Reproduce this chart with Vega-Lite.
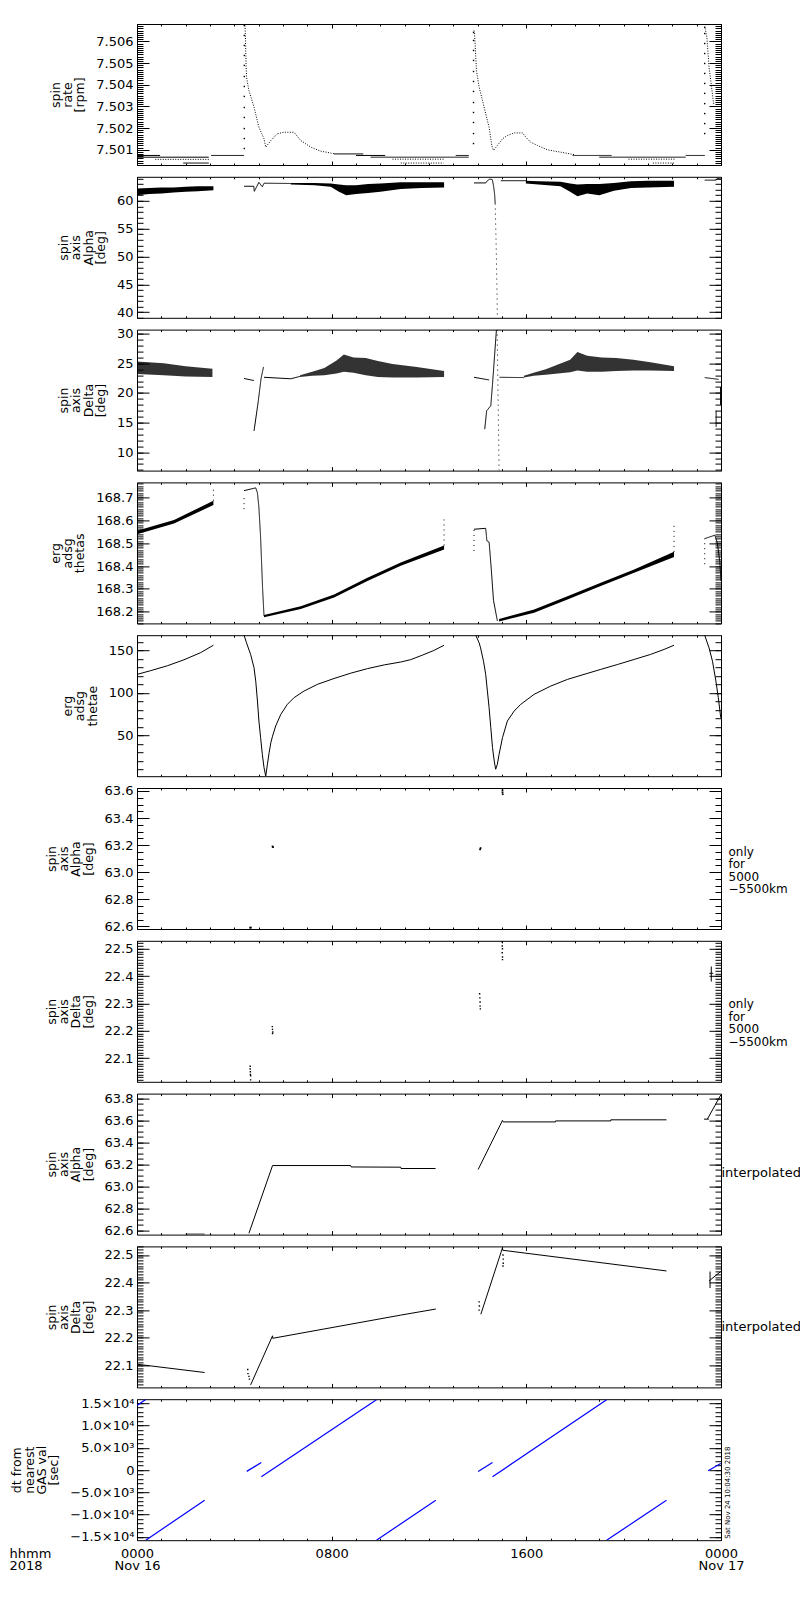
{
"$schema": "https://vega.github.io/schema/vega-lite/v6.json",
"background": "white",
"padding": {"left": 8, "top": 23, "right": 0, "bottom": 0},
"autosize": {"type": "pad"},
"spacing": 11.8,
"bounds": "flush",
"config": {
  "font": "DejaVu Sans",
  "view": {"stroke": "black", "strokeWidth": 1},
  "axis": {"domain": false, "ticks": false, "labelFontSize": 13, "labelColor": "black", "labelFont": "DejaVu Sans", "titleFont": "DejaVu Sans", "titleFontSize": 12.5, "titleFontWeight": "normal", "titleColor": "black", "gridColor": "black", "gridOpacity": 1, "gridWidth": 1, "labelFlush": false, "labelOverlap": false, "labelBound": false, "titleLineHeight": 12.3, "labelPadding": 4, "titlePadding": 9}
},
"datasets": {
"p1": [
{"s":"a","k":"solid","h":0,"v":7.50074},{"s":"a","k":"solid","h":0.95,"v":7.50074},
{"s":"b","k":"solid","h":0,"v":7.50066},{"s":"b","k":"solid","h":2.95,"v":7.50066},
{"s":"c","k":"dot","h":0.75,"v":7.50056},{"s":"c","k":"dot","h":2.95,"v":7.50056},
{"s":"d","k":"solid","h":1.9,"v":7.50039},{"s":"d","k":"solid","h":2.95,"v":7.50039},
{"s":"e","k":"solid","h":3.05,"v":7.50074},{"s":"e","k":"solid","h":4.4,"v":7.50074},
{"s":"f","k":"dot","h":4.44,"v":7.50673},{"s":"f","k":"dot","h":4.46,"v":7.506},{"s":"f","k":"dot","h":4.48,"v":7.505},{"s":"f","k":"dot","h":4.5,"v":7.50435},{"s":"f","k":"dot","h":4.6,"v":7.50373},{"s":"f","k":"dot","h":4.81,"v":7.50296},{"s":"f","k":"dot","h":5.01,"v":7.50204},{"s":"f","k":"dot","h":5.22,"v":7.50151},{"s":"f","k":"dot","h":5.29,"v":7.50112},{"s":"f","k":"dot","h":5.5,"v":7.50143},{"s":"f","k":"dot","h":5.77,"v":7.50174},{"s":"f","k":"dot","h":6.04,"v":7.50181},{"s":"f","k":"dot","h":6.45,"v":7.50181},{"s":"f","k":"dot","h":6.73,"v":7.50143},{"s":"f","k":"dot","h":7.14,"v":7.50112},{"s":"f","k":"dot","h":7.55,"v":7.50094},{"s":"f","k":"dot","h":8.1,"v":7.50082},
{"s":"g","k":"solid","h":8.1,"v":7.50081},{"s":"g","k":"solid","h":9.3,"v":7.50081},
{"s":"h","k":"solid","h":9.0,"v":7.50074},{"s":"h","k":"solid","h":10.2,"v":7.50074},
{"s":"i","k":"solid","h":9.6,"v":7.50066},{"s":"i","k":"solid","h":13.63,"v":7.50066},
{"s":"j","k":"dot","h":10.5,"v":7.50057},{"s":"j","k":"dot","h":12.6,"v":7.50057},
{"s":"k","k":"dot","h":10.84,"v":7.50039},{"s":"k","k":"dot","h":12.6,"v":7.50039},
{"s":"m","k":"solid","h":13.1,"v":7.50074},{"s":"m","k":"solid","h":13.63,"v":7.50074},
{"s":"n","k":"dot","h":13.85,"v":7.5065},{"s":"n","k":"dot","h":13.88,"v":7.5062},{"s":"n","k":"dot","h":13.95,"v":7.50466},{"s":"n","k":"dot","h":14.06,"v":7.50389},{"s":"n","k":"dot","h":14.2,"v":7.50327},{"s":"n","k":"dot","h":14.33,"v":7.50266},{"s":"n","k":"dot","h":14.47,"v":7.50204},{"s":"n","k":"dot","h":14.58,"v":7.5012},{"s":"n","k":"dot","h":14.65,"v":7.50097},{"s":"n","k":"dot","h":14.81,"v":7.5012},{"s":"n","k":"dot","h":15.02,"v":7.50151},{"s":"n","k":"dot","h":15.22,"v":7.50166},{"s":"n","k":"dot","h":15.5,"v":7.50178},{"s":"n","k":"dot","h":15.84,"v":7.50178},{"s":"n","k":"dot","h":15.98,"v":7.50158},{"s":"n","k":"dot","h":16.18,"v":7.50135},{"s":"n","k":"dot","h":16.46,"v":7.5012},{"s":"n","k":"dot","h":16.87,"v":7.501},{"s":"n","k":"dot","h":17.42,"v":7.50089},{"s":"n","k":"dot","h":17.96,"v":7.50078},
{"s":"o","k":"solid","h":17.9,"v":7.50074},{"s":"o","k":"solid","h":19.5,"v":7.50074},
{"s":"p","k":"solid","h":19.0,"v":7.50066},{"s":"p","k":"solid","h":22.55,"v":7.50066},
{"s":"q","k":"dot","h":20.2,"v":7.50057},{"s":"q","k":"dot","h":22.1,"v":7.50057},
{"s":"r","k":"dot","h":21.2,"v":7.50039},{"s":"r","k":"dot","h":22.1,"v":7.50039},
{"s":"u","k":"solid","h":22.55,"v":7.50074},{"s":"u","k":"solid","h":23.33,"v":7.50074},
{"s":"w","k":"dot","h":23.35,"v":7.5066},{"s":"w","k":"dot","h":23.42,"v":7.50619},{"s":"w","k":"dot","h":23.51,"v":7.5048},{"s":"w","k":"dot","h":23.6,"v":7.504},{"s":"w","k":"dot","h":23.7,"v":7.5031},
{"s":"x","k":"pt","h":4.41,"v":7.50106},{"s":"x","k":"pt","h":4.41,"v":7.50152},{"s":"x","k":"pt","h":4.41,"v":7.50198},{"s":"x","k":"pt","h":4.41,"v":7.50249},{"s":"x","k":"pt","h":4.41,"v":7.50295},{"s":"x","k":"pt","h":4.41,"v":7.50346},{"s":"x","k":"pt","h":4.41,"v":7.50392},{"s":"x","k":"pt","h":4.41,"v":7.50438},{"s":"x","k":"pt","h":4.41,"v":7.50489},{"s":"x","k":"pt","h":4.41,"v":7.50535},{"s":"x","k":"pt","h":4.41,"v":7.50581},{"s":"x","k":"pt","h":4.41,"v":7.50627},{"s":"x","k":"pt","h":4.41,"v":7.50673},
{"s":"x","k":"pt","h":13.83,"v":7.50129},{"s":"x","k":"pt","h":13.83,"v":7.50175},{"s":"x","k":"pt","h":13.83,"v":7.50226},{"s":"x","k":"pt","h":13.83,"v":7.50272},{"s":"x","k":"pt","h":13.83,"v":7.50318},{"s":"x","k":"pt","h":13.83,"v":7.50369},{"s":"x","k":"pt","h":13.83,"v":7.50415},{"s":"x","k":"pt","h":13.83,"v":7.50461},{"s":"x","k":"pt","h":13.83,"v":7.50512},{"s":"x","k":"pt","h":13.83,"v":7.50558},{"s":"x","k":"pt","h":13.83,"v":7.50604},{"s":"x","k":"pt","h":13.83,"v":7.50641},
{"s":"x","k":"pt","h":23.33,"v":7.50175},{"s":"x","k":"pt","h":23.33,"v":7.50221},{"s":"x","k":"pt","h":23.33,"v":7.50267},{"s":"x","k":"pt","h":23.33,"v":7.50313},{"s":"x","k":"pt","h":23.33,"v":7.5036},{"s":"x","k":"pt","h":23.33,"v":7.50406},{"s":"x","k":"pt","h":23.33,"v":7.50452},{"s":"x","k":"pt","h":23.33,"v":7.50498},{"s":"x","k":"pt","h":23.33,"v":7.50544},{"s":"x","k":"pt","h":23.33,"v":7.5059},{"s":"x","k":"pt","h":23.33,"v":7.50636},{"s":"x","k":"pt","h":23.33,"v":7.50665}
],
"p2": [
{"s":"b1","k":"band","h":0,"lo":61.0,"hi":62.2},{"s":"b1","k":"band","h":0.5,"lo":61.2,"hi":62.3},{"s":"b1","k":"band","h":1.0,"lo":61.3,"hi":62.4},{"s":"b1","k":"band","h":1.5,"lo":61.5,"hi":62.4},{"s":"b1","k":"band","h":2.0,"lo":61.6,"hi":62.5},{"s":"b1","k":"band","h":2.5,"lo":61.7,"hi":62.6},{"s":"b1","k":"band","h":3.14,"lo":61.9,"hi":62.6},
{"s":"b2","k":"band","h":6.32,"lo":62.9,"hi":63.2},{"s":"b2","k":"band","h":7.3,"lo":62.8,"hi":63.2},{"s":"b2","k":"band","h":7.96,"lo":62.5,"hi":63.1},{"s":"b2","k":"band","h":8.3,"lo":61.6,"hi":62.9},{"s":"b2","k":"band","h":8.6,"lo":61.0,"hi":62.8},{"s":"b2","k":"band","h":9.0,"lo":61.2,"hi":62.8},{"s":"b2","k":"band","h":9.5,"lo":61.4,"hi":63.0},{"s":"b2","k":"band","h":10.0,"lo":61.6,"hi":63.1},{"s":"b2","k":"band","h":10.84,"lo":62.1,"hi":63.3},{"s":"b2","k":"band","h":11.7,"lo":62.3,"hi":63.3},{"s":"b2","k":"band","h":12.62,"lo":62.4,"hi":63.3},
{"s":"b3","k":"band","h":15.98,"lo":63.1,"hi":63.6},{"s":"b3","k":"band","h":16.5,"lo":62.9,"hi":63.5},{"s":"b3","k":"band","h":17.4,"lo":62.6,"hi":63.4},{"s":"b3","k":"band","h":17.8,"lo":61.6,"hi":63.1},{"s":"b3","k":"band","h":18.1,"lo":60.8,"hi":62.9},{"s":"b3","k":"band","h":18.5,"lo":61.3,"hi":63.0},{"s":"b3","k":"band","h":19.0,"lo":61.0,"hi":63.0},{"s":"b3","k":"band","h":19.6,"lo":61.8,"hi":63.2},{"s":"b3","k":"band","h":20.3,"lo":62.3,"hi":63.5},{"s":"b3","k":"band","h":21.0,"lo":62.4,"hi":63.6},{"s":"b3","k":"band","h":22.07,"lo":62.5,"hi":63.6},
{"s":"l1","k":"solid","h":4.4,"v":62.6},{"s":"l1","k":"solid","h":4.8,"v":62.6},{"s":"l1","k":"solid","h":4.82,"v":61.7},{"s":"l1","k":"solid","h":5.01,"v":63.3},{"s":"l1","k":"solid","h":5.15,"v":62.5},{"s":"l1","k":"solid","h":5.22,"v":63.15},{"s":"l1","k":"solid","h":6.32,"v":63.1},
{"s":"l2","k":"solid","h":13.85,"v":63.2},{"s":"l2","k":"solid","h":14.33,"v":63.2},{"s":"l2","k":"solid","h":14.4,"v":63.6},{"s":"l2","k":"solid","h":14.5,"v":63.9},{"s":"l2","k":"solid","h":14.6,"v":63.8},{"s":"l2","k":"solid","h":14.66,"v":62.5},{"s":"l2","k":"solid","h":14.7,"v":61.0},{"s":"l2","k":"solid","h":14.72,"v":59.5},
{"s":"d2","k":"sparse","h":14.72,"v":59.5},{"s":"d2","k":"sparse","h":14.76,"v":52},{"s":"d2","k":"sparse","h":14.79,"v":45},{"s":"d2","k":"sparse","h":14.81,"v":39},
{"s":"l3","k":"solid","h":14.95,"v":63.6},{"s":"l3","k":"solid","h":15.98,"v":63.6},
{"s":"l4","k":"solid","h":23.33,"v":63.7},{"s":"l4","k":"solid","h":23.8,"v":63.7},{"s":"l4","k":"solid","h":23.85,"v":64.0},{"s":"l4","k":"solid","h":24,"v":63.9}
],
"p3": [
{"s":"b1","k":"band","h":0,"lo":23.2,"hi":25.3},{"s":"b1","k":"band","h":1.1,"lo":23.0,"hi":25.0},{"s":"b1","k":"band","h":2.0,"lo":22.8,"hi":24.5},{"s":"b1","k":"band","h":3.1,"lo":22.7,"hi":24.1},
{"s":"b2","k":"band","h":6.7,"lo":22.7,"hi":23.0},{"s":"b2","k":"band","h":7.2,"lo":22.9,"hi":23.6},{"s":"b2","k":"band","h":7.7,"lo":23.0,"hi":24.2},{"s":"b2","k":"band","h":8.2,"lo":23.3,"hi":25.5},{"s":"b2","k":"band","h":8.5,"lo":23.6,"hi":26.5},{"s":"b2","k":"band","h":8.9,"lo":23.4,"hi":26.0},{"s":"b2","k":"band","h":9.4,"lo":23.0,"hi":25.9},{"s":"b2","k":"band","h":9.9,"lo":22.7,"hi":25.4},{"s":"b2","k":"band","h":10.5,"lo":22.6,"hi":24.9},{"s":"b2","k":"band","h":11.5,"lo":22.6,"hi":24.4},{"s":"b2","k":"band","h":12.62,"lo":22.7,"hi":23.7},
{"s":"b3","k":"band","h":15.9,"lo":22.6,"hi":22.9},{"s":"b3","k":"band","h":16.3,"lo":22.9,"hi":23.4},{"s":"b3","k":"band","h":16.8,"lo":23.1,"hi":24.0},{"s":"b3","k":"band","h":17.3,"lo":23.3,"hi":24.8},{"s":"b3","k":"band","h":17.8,"lo":23.5,"hi":25.6},{"s":"b3","k":"band","h":18.1,"lo":23.8,"hi":26.9},{"s":"b3","k":"band","h":18.5,"lo":23.6,"hi":26.3},{"s":"b3","k":"band","h":19.1,"lo":23.6,"hi":26.0},{"s":"b3","k":"band","h":19.7,"lo":23.7,"hi":25.9},{"s":"b3","k":"band","h":20.4,"lo":23.8,"hi":25.6},{"s":"b3","k":"band","h":21.1,"lo":23.8,"hi":25.2},{"s":"b3","k":"band","h":22.07,"lo":23.7,"hi":24.5},
{"s":"l1","k":"solid","h":4.4,"v":22.45},{"s":"l1","k":"solid","h":4.8,"v":22.1},
{"s":"l2","k":"solid","h":4.81,"v":13.6},{"s":"l2","k":"solid","h":4.98,"v":18.5},{"s":"l2","k":"solid","h":5.1,"v":22.5},{"s":"l2","k":"solid","h":5.2,"v":24.4},
{"s":"l3","k":"solid","h":5.22,"v":22.65},{"s":"l3","k":"solid","h":6.32,"v":22.4},{"s":"l3","k":"solid","h":6.7,"v":22.8},
{"s":"l4","k":"solid","h":13.85,"v":22.65},{"s":"l4","k":"solid","h":14.47,"v":22.2},
{"s":"l5","k":"solid","h":14.29,"v":13.9},{"s":"l5","k":"solid","h":14.37,"v":17.0},{"s":"l5","k":"solid","h":14.54,"v":17.85},{"s":"l5","k":"solid","h":14.61,"v":21.5},{"s":"l5","k":"solid","h":14.7,"v":26.6},{"s":"l5","k":"solid","h":14.77,"v":30.6},
{"s":"d1","k":"sparse","h":14.8,"v":30.7},{"s":"d1","k":"sparse","h":14.88,"v":6.9},
{"s":"l6","k":"solid","h":14.9,"v":22.65},{"s":"l6","k":"solid","h":15.9,"v":22.6},
{"s":"l7","k":"solid","h":23.33,"v":22.6},{"s":"l7","k":"solid","h":23.9,"v":22.3},
{"s":"l8","k":"solid","h":23.8,"v":17.0},{"s":"l8","k":"solid","h":23.8,"v":14.3},
{"s":"l9","k":"solid","h":23.98,"v":21.0},{"s":"l9","k":"solid","h":23.98,"v":18.0}
],
"p4": [
{"s":"b1","k":"band","h":0,"lo":168.539,"hi":168.554},{"s":"b1","k":"band","h":1.52,"lo":168.586,"hi":168.601},{"s":"b1","k":"band","h":3.14,"lo":168.667,"hi":168.686},
{"s":"b2","k":"band","h":5.22,"lo":168.176,"hi":168.186},{"s":"b2","k":"band","h":6.73,"lo":168.212,"hi":168.224},{"s":"b2","k":"band","h":8.1,"lo":168.262,"hi":168.276},{"s":"b2","k":"band","h":9.47,"lo":168.335,"hi":168.349},{"s":"b2","k":"band","h":10.84,"lo":168.401,"hi":168.415},{"s":"b2","k":"band","h":12.62,"lo":168.472,"hi":168.49},
{"s":"b3","k":"band","h":14.88,"lo":168.157,"hi":168.168},{"s":"b3","k":"band","h":16.32,"lo":168.196,"hi":168.21},{"s":"b3","k":"band","h":17.69,"lo":168.254,"hi":168.268},{"s":"b3","k":"band","h":19.06,"lo":168.313,"hi":168.327},{"s":"b3","k":"band","h":20.43,"lo":168.371,"hi":168.385},{"s":"b3","k":"band","h":22.07,"lo":168.44,"hi":168.462},
{"s":"l1","k":"solid","h":4.4,"v":168.73},{"s":"l1","k":"solid","h":4.88,"v":168.742},{"s":"l1","k":"solid","h":4.95,"v":168.72},{"s":"l1","k":"solid","h":5.01,"v":168.656},{"s":"l1","k":"solid","h":5.08,"v":168.525},{"s":"l1","k":"solid","h":5.16,"v":168.305},{"s":"l1","k":"solid","h":5.22,"v":168.181},
{"s":"l2","k":"solid","h":13.85,"v":168.561},{"s":"l2","k":"solid","h":14.33,"v":168.565},{"s":"l2","k":"solid","h":14.38,"v":168.51},{"s":"l2","k":"solid","h":14.47,"v":168.505},{"s":"l2","k":"solid","h":14.55,"v":168.4},{"s":"l2","k":"solid","h":14.65,"v":168.25},{"s":"l2","k":"solid","h":14.81,"v":168.16},
{"s":"l3","k":"solid","h":23.33,"v":168.52},{"s":"l3","k":"solid","h":23.75,"v":168.535},{"s":"l3","k":"solid","h":23.85,"v":168.5},{"s":"l3","k":"solid","h":23.95,"v":168.42},{"s":"l3","k":"solid","h":24,"v":168.335},
{"s":"d1","k":"sparse","h":3.14,"v":168.686},{"s":"d1","k":"sparse","h":3.14,"v":168.744},
{"s":"d2","k":"sparse","h":4.4,"v":168.649},{"s":"d2","k":"sparse","h":4.4,"v":168.7},
{"s":"d3","k":"sparse","h":12.62,"v":168.49},{"s":"d3","k":"sparse","h":12.62,"v":168.612},
{"s":"d4","k":"sparse","h":13.85,"v":168.466},{"s":"d4","k":"sparse","h":13.85,"v":168.561},
{"s":"d5","k":"sparse","h":22.07,"v":168.462},{"s":"d5","k":"sparse","h":22.07,"v":168.576},
{"s":"d6","k":"sparse","h":23.33,"v":168.408},{"s":"d6","k":"sparse","h":23.33,"v":168.52}
],
"p5": [
{"s":"l1","k":"solid","h":0,"v":121.8},{"s":"l1","k":"solid","h":0.56,"v":126.2},{"s":"l1","k":"solid","h":1.25,"v":132},{"s":"l1","k":"solid","h":1.93,"v":139},{"s":"l1","k":"solid","h":2.62,"v":147.5},{"s":"l1","k":"solid","h":3.14,"v":156.2},
{"s":"l2","k":"solid","h":4.4,"v":168},{"s":"l2","k":"solid","h":4.5,"v":159},{"s":"l2","k":"solid","h":4.67,"v":145.3},{"s":"l2","k":"solid","h":4.81,"v":129.6},{"s":"l2","k":"solid","h":4.88,"v":113.9},{"s":"l2","k":"solid","h":4.95,"v":90.4},{"s":"l2","k":"solid","h":5.01,"v":66.8},{"s":"l2","k":"solid","h":5.08,"v":47.2},{"s":"l2","k":"solid","h":5.15,"v":27.6},{"s":"l2","k":"solid","h":5.22,"v":11.9},{"s":"l2","k":"solid","h":5.29,"v":1.8},{"s":"l2","k":"solid","h":5.36,"v":15.9},{"s":"l2","k":"solid","h":5.43,"v":29.6},{"s":"l2","k":"solid","h":5.5,"v":41.3},{"s":"l2","k":"solid","h":5.57,"v":49},{"s":"l2","k":"solid","h":5.7,"v":61},{"s":"l2","k":"solid","h":5.91,"v":74.7},{"s":"l2","k":"solid","h":6.18,"v":86.5},{"s":"l2","k":"solid","h":6.45,"v":94.3},{"s":"l2","k":"solid","h":6.86,"v":102.1},{"s":"l2","k":"solid","h":7.41,"v":110},{"s":"l2","k":"solid","h":8.1,"v":117},{"s":"l2","k":"solid","h":8.78,"v":123.2},{"s":"l2","k":"solid","h":9.47,"v":128.6},{"s":"l2","k":"solid","h":10.16,"v":133},{"s":"l2","k":"solid","h":10.84,"v":136.4},{"s":"l2","k":"solid","h":11.25,"v":139.2},{"s":"l2","k":"solid","h":11.73,"v":144.5},{"s":"l2","k":"solid","h":12.2,"v":150},{"s":"l2","k":"solid","h":12.62,"v":156.2},
{"s":"l3","k":"solid","h":13.92,"v":168},{"s":"l3","k":"solid","h":14.06,"v":159},{"s":"l3","k":"solid","h":14.12,"v":153},{"s":"l3","k":"solid","h":14.24,"v":137.4},{"s":"l3","k":"solid","h":14.33,"v":121.8},{"s":"l3","k":"solid","h":14.4,"v":102.1},{"s":"l3","k":"solid","h":14.47,"v":82.5},{"s":"l3","k":"solid","h":14.54,"v":59},{"s":"l3","k":"solid","h":14.61,"v":35.5},{"s":"l3","k":"solid","h":14.68,"v":19.8},{"s":"l3","k":"solid","h":14.74,"v":10},{"s":"l3","k":"solid","h":14.81,"v":15.9},{"s":"l3","k":"solid","h":14.88,"v":27.7},{"s":"l3","k":"solid","h":15.02,"v":47.2},{"s":"l3","k":"solid","h":15.22,"v":66.8},{"s":"l3","k":"solid","h":15.5,"v":78.6},{"s":"l3","k":"solid","h":15.77,"v":86.5},{"s":"l3","k":"solid","h":16.32,"v":98.3},{"s":"l3","k":"solid","h":17.0,"v":108},{"s":"l3","k":"solid","h":17.69,"v":115.9},{"s":"l3","k":"solid","h":18.37,"v":121.8},{"s":"l3","k":"solid","h":19.06,"v":127.7},{"s":"l3","k":"solid","h":19.75,"v":133.5},{"s":"l3","k":"solid","h":20.43,"v":139.4},{"s":"l3","k":"solid","h":21.1,"v":145.3},{"s":"l3","k":"solid","h":21.66,"v":151.2},{"s":"l3","k":"solid","h":22.07,"v":156.2},
{"s":"l4","k":"solid","h":23.33,"v":168},{"s":"l4","k":"solid","h":23.51,"v":153},{"s":"l4","k":"solid","h":23.65,"v":137.4},{"s":"l4","k":"solid","h":23.79,"v":114},{"s":"l4","k":"solid","h":23.89,"v":94.3},{"s":"l4","k":"solid","h":23.99,"v":70.7}
],
"p6": [
{"h":4.65,"v":62.59},{"h":4.68,"v":62.59},{"h":5.57,"v":63.19},{"h":5.59,"v":63.185},{"h":14.1,"v":63.168},{"h":14.12,"v":63.178},{"h":15.02,"v":63.605},{"h":15.02,"v":63.59},{"h":15.03,"v":63.576}
],
"p7": [
{"s":"p","k":"pt","h":4.65,"v":22.07},{"s":"p","k":"pt","h":4.65,"v":22.06},{"s":"p","k":"pt","h":4.66,"v":22.05},{"s":"p","k":"pt","h":4.66,"v":22.04},{"s":"p","k":"pt","h":4.67,"v":22.035},{"s":"p","k":"pt","h":4.67,"v":22.02},
{"s":"p","k":"pt","h":5.56,"v":22.215},{"s":"p","k":"pt","h":5.57,"v":22.205},{"s":"p","k":"pt","h":5.58,"v":22.195},{"s":"p","k":"pt","h":5.57,"v":22.19},
{"s":"p","k":"pt","h":14.08,"v":22.335},{"s":"p","k":"pt","h":14.09,"v":22.32},{"s":"p","k":"pt","h":14.1,"v":22.305},{"s":"p","k":"pt","h":14.1,"v":22.29},{"s":"p","k":"pt","h":14.11,"v":22.28},
{"s":"p","k":"pt","h":15.0,"v":22.525},{"s":"p","k":"pt","h":15.01,"v":22.51},{"s":"p","k":"pt","h":15.02,"v":22.5},{"s":"p","k":"pt","h":15.01,"v":22.485},{"s":"p","k":"pt","h":15.02,"v":22.47},{"s":"p","k":"pt","h":15.02,"v":22.46},
{"s":"x1","k":"solid","h":23.6,"v":22.38},{"s":"x1","k":"solid","h":23.6,"v":22.435},
{"s":"x2","k":"solid","h":23.52,"v":22.41},{"s":"x2","k":"solid","h":23.68,"v":22.41}
],
"p8": [
{"s":"l1","k":"solid","h":2.0,"v":62.567},{"s":"l1","k":"solid","h":2.78,"v":62.567},
{"s":"l2","k":"solid","h":4.6,"v":62.575},{"s":"l2","k":"solid","h":5.57,"v":63.19},{"s":"l2","k":"solid","h":8.78,"v":63.19},{"s":"l2","k":"solid","h":8.8,"v":63.177},{"s":"l2","k":"solid","h":10.84,"v":63.175},{"s":"l2","k":"solid","h":10.85,"v":63.163},{"s":"l2","k":"solid","h":12.27,"v":63.163},
{"s":"l3","k":"solid","h":14.02,"v":63.154},{"s":"l3","k":"solid","h":15.02,"v":63.6},{"s":"l3","k":"solid","h":15.05,"v":63.586},{"s":"l3","k":"solid","h":17.2,"v":63.586},{"s":"l3","k":"solid","h":17.2,"v":63.595},{"s":"l3","k":"solid","h":19.47,"v":63.595},{"s":"l3","k":"solid","h":19.47,"v":63.605},{"s":"l3","k":"solid","h":21.76,"v":63.605},
{"s":"l4","k":"solid","h":23.44,"v":63.611},{"s":"l4","k":"solid","h":23.99,"v":63.83},
{"s":"l5","k":"solid","h":23.3,"v":63.611},{"s":"l5","k":"solid","h":23.5,"v":63.611}
],
"p9": [
{"s":"l1","k":"solid","h":0,"v":22.104},{"s":"l1","k":"solid","h":2.78,"v":22.074},
{"s":"l2","k":"solid","h":4.67,"v":22.029},{"s":"l2","k":"solid","h":5.57,"v":22.207},{"s":"l2","k":"solid","h":5.58,"v":22.198},{"s":"l2","k":"solid","h":10.84,"v":22.282},{"s":"l2","k":"solid","h":12.28,"v":22.304},
{"s":"l3","k":"solid","h":14.13,"v":22.285},{"s":"l3","k":"solid","h":15.02,"v":22.526},{"s":"l3","k":"solid","h":15.03,"v":22.517},{"s":"l3","k":"solid","h":21.76,"v":22.442},
{"s":"l4","k":"solid","h":23.51,"v":22.406},{"s":"l4","k":"solid","h":23.99,"v":22.44},
{"s":"l5","k":"solid","h":23.55,"v":22.44},{"s":"l5","k":"solid","h":23.55,"v":22.38},
{"s":"p","k":"pt","h":4.55,"v":22.085},{"s":"p","k":"pt","h":4.56,"v":22.07},{"s":"p","k":"pt","h":4.6,"v":22.06},{"s":"p","k":"pt","h":4.62,"v":22.05},
{"s":"p","k":"pt","h":14.06,"v":22.33},{"s":"p","k":"pt","h":14.07,"v":22.315},{"s":"p","k":"pt","h":14.06,"v":22.3},
{"s":"p","k":"pt","h":15.04,"v":22.5},{"s":"p","k":"pt","h":15.05,"v":22.485},{"s":"p","k":"pt","h":15.05,"v":22.47},{"s":"p","k":"pt","h":15.04,"v":22.46}
],
"p10": [
{"s":"s1","h":0,"v":14480},{"s":"s1","h":0.36,"v":15812},
{"s":"s2","h":0.36,"v":-15760},{"s":"s2","h":2.78,"v":-6760},
{"s":"s3","h":4.51,"v":-300},{"s":"s3","h":5.11,"v":1700},
{"s":"s4","h":5.11,"v":-1510},{"s":"s4","h":9.84,"v":15760},
{"s":"s5","h":9.84,"v":-15760},{"s":"s5","h":12.28,"v":-6760},
{"s":"s6","h":14.02,"v":-300},{"s":"s6","h":14.61,"v":1700},
{"s":"s7","h":14.61,"v":-1510},{"s":"s7","h":19.3,"v":15760},
{"s":"s8","h":19.3,"v":-15760},{"s":"s8","h":21.76,"v":-6760},
{"s":"s9","h":23.47,"v":-160},{"s":"s9","h":23.99,"v":1490}
]
},
"vconcat": [
{
 "width": 584, "height": 141, "data": {"name": "p1"},
 "resolve": {"axis": {"x": "independent", "y": "independent"}},
 "layer": [
  {"transform": [{"filter": "datum.k!='pt'"}],
   "mark": {"type": "line", "color": "black", "strokeWidth": 1, "clip": true},
   "encoding": {
    "x": {"field": "h", "type": "quantitative", "scale": {"domain": [0,24], "nice": false, "zero": false}, "axis": {"orient":"bottom","values":[0,8,16,24],"labels":false,"grid":true,"gridDash":[4,133,4,1000],"title":null}},
    "y": {"field": "v", "type": "quantitative", "scale": {"domain": [7.5003,7.5068], "nice": false, "zero": false}, "axis": {"orient":"left","values":[7.501,7.502,7.503,7.504,7.505,7.506],"format":".3f","grid":true,"gridDash":[12,560,12,1000],"title":["spin","rate","[rpm]"]}},
    "detail": {"field": "s"},
    "strokeDash": {"field": "k", "type": "nominal", "scale": {"domain": ["solid","dot","sparse"], "range": [[1,0],[1,1.5],[1,4]]}, "legend": null},
    "order": {"value": null}
   }},
  {"transform": [{"filter": "datum.k=='pt'"}],
   "mark": {"type": "square", "color": "black", "size": 2, "opacity": 1, "clip": true},
   "encoding": {
    "x": {"field": "h", "type": "quantitative", "scale": {"domain": [0,24], "nice": false, "zero": false}, "axis": {"orient":"top","values":[0,1,2,3,4,5,6,7,8,9,10,11,12,13,14,15,16,17,18,19,20,21,22,23,24],"labels":false,"grid":true,"gridDash":[2,137,2,1000],"title":null}},
    "y": {"field": "v", "type": "quantitative", "scale": {"domain": [7.5003,7.5068], "nice": false, "zero": false}, "axis": {"orient":"right","values":[7.5004,7.5005,7.5006,7.5007,7.5008,7.5009,7.5010,7.5011,7.5012,7.5013,7.5014,7.5015,7.5016,7.5017,7.5018,7.5019,7.5020,7.5021,7.5022,7.5023,7.5024,7.5025,7.5026,7.5027,7.5028,7.5029,7.5030,7.5031,7.5032,7.5033,7.5034,7.5035,7.5036,7.5037,7.5038,7.5039,7.5040,7.5041,7.5042,7.5043,7.5044,7.5045,7.5046,7.5047,7.5048,7.5049,7.5050,7.5051,7.5052,7.5053,7.5054,7.5055,7.5056,7.5057,7.5058,7.5059,7.5060,7.5061,7.5062,7.5063,7.5064,7.5065,7.5066,7.5067,7.5068],"labels":false,"grid":true,"gridDash":[6,572,6,1000],"title":null}}
   }}
 ]
},
{
 "width": 584, "height": 141, "data": {"name": "p2"},
 "resolve": {"axis": {"x": "independent", "y": "independent"}},
 "layer": [
  {"transform": [{"filter": "datum.k!='band'"}],
   "mark": {"type": "line", "color": "black", "strokeWidth": 1, "clip": true},
   "encoding": {
    "x": {"field": "h", "type": "quantitative", "scale": {"domain": [0,24], "nice": false, "zero": false}, "axis": {"orient":"bottom","values":[0,8,16,24],"labels":false,"grid":true,"gridDash":[4,133,4,1000],"title":null}},
    "y": {"field": "v", "type": "quantitative", "scale": {"domain": [39,64.3], "nice": false, "zero": false}, "axis": {"orient":"left","values":[40,45,50,55,60],"format":"d","grid":true,"gridDash":[12,560,12,1000],"title":["spin","axis","Alpha","[deg]"]}},
    "detail": {"field": "s"},
    "strokeDash": {"field": "k", "type": "nominal", "scale": {"domain": ["solid","dot","sparse"], "range": [[1,0],[1,1.5],[1,4]]}, "legend": null},
    "order": {"value": null}
   }},
  {"transform": [{"filter": "datum.k=='band'"}],
   "mark": {"type": "area", "color": "black", "opacity": 1, "clip": true},
   "encoding": {
    "x": {"field": "h", "type": "quantitative", "scale": {"domain": [0,24], "nice": false, "zero": false}, "axis": {"orient":"top","values":[0,1,2,3,4,5,6,7,8,9,10,11,12,13,14,15,16,17,18,19,20,21,22,23,24],"labels":false,"grid":true,"gridDash":[2,137,2,1000],"title":null}},
    "y": {"field": "lo", "type": "quantitative", "scale": {"domain": [39,64.3], "nice": false, "zero": false}, "axis": {"orient":"right","values":[39,40,41,42,43,44,45,46,47,48,49,50,51,52,53,54,55,56,57,58,59,60,61,62,63,64],"labels":false,"grid":true,"gridDash":[6,572,6,1000],"title":null}},
    "y2": {"field": "hi"},
    "detail": {"field": "s"},
    "order": {"value": null}
   }}
 ]
},
{
 "width": 584, "height": 141, "data": {"name": "p3"},
 "resolve": {"axis": {"x": "independent", "y": "independent"}},
 "layer": [
  {"transform": [{"filter": "datum.k!='band'"}],
   "mark": {"type": "line", "color": "black", "strokeWidth": 1, "clip": true},
   "encoding": {
    "x": {"field": "h", "type": "quantitative", "scale": {"domain": [0,24], "nice": false, "zero": false}, "axis": {"orient":"bottom","values":[0,8,16,24],"labels":false,"grid":true,"gridDash":[4,133,4,1000],"title":null}},
    "y": {"field": "v", "type": "quantitative", "scale": {"domain": [6.9,30.7], "nice": false, "zero": false}, "axis": {"orient":"left","values":[10,15,20,25,30],"format":"d","grid":true,"gridDash":[12,560,12,1000],"title":["spin","axis","Delta","[deg]"]}},
    "detail": {"field": "s"},
    "strokeDash": {"field": "k", "type": "nominal", "scale": {"domain": ["solid","dot","sparse"], "range": [[1,0],[1,1.5],[1,4]]}, "legend": null},
    "order": {"value": null}
   }},
  {"transform": [{"filter": "datum.k=='band'"}],
   "mark": {"type": "area", "color": "black", "opacity": 0.8, "clip": true},
   "encoding": {
    "x": {"field": "h", "type": "quantitative", "scale": {"domain": [0,24], "nice": false, "zero": false}, "axis": {"orient":"top","values":[0,1,2,3,4,5,6,7,8,9,10,11,12,13,14,15,16,17,18,19,20,21,22,23,24],"labels":false,"grid":true,"gridDash":[2,137,2,1000],"title":null}},
    "y": {"field": "lo", "type": "quantitative", "scale": {"domain": [6.9,30.7], "nice": false, "zero": false}, "axis": {"orient":"right","values":[7,8,9,10,11,12,13,14,15,16,17,18,19,20,21,22,23,24,25,26,27,28,29,30],"labels":false,"grid":true,"gridDash":[6,572,6,1000],"title":null}},
    "y2": {"field": "hi"},
    "detail": {"field": "s"},
    "order": {"value": null}
   }}
 ]
},
{
 "width": 584, "height": 141, "data": {"name": "p4"},
 "resolve": {"axis": {"x": "independent", "y": "independent"}},
 "layer": [
  {"transform": [{"filter": "datum.k!='band'"}],
   "mark": {"type": "line", "color": "black", "strokeWidth": 1, "clip": true},
   "encoding": {
    "x": {"field": "h", "type": "quantitative", "scale": {"domain": [0,24], "nice": false, "zero": false}, "axis": {"orient":"bottom","values":[0,8,16,24],"labels":false,"grid":true,"gridDash":[4,133,4,1000],"title":null}},
    "y": {"field": "v", "type": "quantitative", "scale": {"domain": [168.149,168.766], "nice": false, "zero": false}, "axis": {"orient":"left","values":[168.2,168.3,168.4,168.5,168.6,168.7],"format":".1f","grid":true,"gridDash":[12,560,12,1000],"title":["erg","adsg","thetas"]}},
    "detail": {"field": "s"},
    "strokeDash": {"field": "k", "type": "nominal", "scale": {"domain": ["solid","dot","sparse"], "range": [[1,0],[1,1.5],[1,4]]}, "legend": null},
    "order": {"value": null}
   }},
  {"transform": [{"filter": "datum.k=='band'"}],
   "mark": {"type": "area", "color": "black", "opacity": 1, "clip": true},
   "encoding": {
    "x": {"field": "h", "type": "quantitative", "scale": {"domain": [0,24], "nice": false, "zero": false}, "axis": {"orient":"top","values":[0,1,2,3,4,5,6,7,8,9,10,11,12,13,14,15,16,17,18,19,20,21,22,23,24],"labels":false,"grid":true,"gridDash":[2,137,2,1000],"title":null}},
    "y": {"field": "lo", "type": "quantitative", "scale": {"domain": [168.149,168.766], "nice": false, "zero": false}, "axis": {"orient":"right","values":[168.15,168.16,168.17,168.18,168.19,168.2,168.21,168.22,168.23,168.24,168.25,168.26,168.27,168.28,168.29,168.3,168.31,168.32,168.33,168.34,168.35,168.36,168.37,168.38,168.39,168.4,168.41,168.42,168.43,168.44,168.45,168.46,168.47,168.48,168.49,168.5,168.51,168.52,168.53,168.54,168.55,168.56,168.57,168.58,168.59,168.6,168.61,168.62,168.63,168.64,168.65,168.66,168.67,168.68,168.69,168.7,168.71,168.72,168.73,168.74,168.75,168.76],"labels":false,"grid":true,"gridDash":[6,572,6,1000],"title":null}},
    "y2": {"field": "hi"},
    "detail": {"field": "s"},
    "order": {"value": null}
   }}
 ]
},
{
 "width": 584, "height": 141, "data": {"name": "p5"},
 "resolve": {"axis": {"x": "independent", "y": "independent"}},
 "layer": [
  {"transform": [{"filter": "datum.h<13"}],
   "mark": {"type": "line", "color": "black", "strokeWidth": 1, "clip": true},
   "encoding": {
    "x": {"field": "h", "type": "quantitative", "scale": {"domain": [0,24], "nice": false, "zero": false}, "axis": {"orient":"bottom","values":[0,8,16,24],"labels":false,"grid":true,"gridDash":[4,133,4,1000],"title":null}},
    "y": {"field": "v", "type": "quantitative", "scale": {"domain": [1.8,168], "nice": false, "zero": false}, "axis": {"orient":"left","values":[50,100,150],"format":"d","grid":true,"gridDash":[12,560,12,1000],"title":["erg","adsg","thetae"]}},
    "detail": {"field": "s"},
    "order": {"value": null}
   }},
  {"transform": [{"filter": "datum.h>=13"}],
   "mark": {"type": "line", "color": "black", "strokeWidth": 1, "clip": true},
   "encoding": {
    "x": {"field": "h", "type": "quantitative", "scale": {"domain": [0,24], "nice": false, "zero": false}, "axis": {"orient":"top","values":[0,1,2,3,4,5,6,7,8,9,10,11,12,13,14,15,16,17,18,19,20,21,22,23,24],"labels":false,"grid":true,"gridDash":[2,137,2,1000],"title":null}},
    "y": {"field": "v", "type": "quantitative", "scale": {"domain": [1.8,168], "nice": false, "zero": false}, "axis": {"orient":"right","values":[10,20,30,40,50,60,70,80,90,100,110,120,130,140,150,160],"labels":false,"grid":true,"gridDash":[6,572,6,1000],"title":null}},
    "detail": {"field": "s"},
    "order": {"value": null}
   }}
 ]
},
{
 "width": 584, "height": 141, "data": {"name": "p6"},
 "resolve": {"axis": {"x": "independent", "y": "independent"}},
 "layer": [
  {"transform": [{"filter": "datum.h<10"}],
   "mark": {"type": "square", "color": "black", "size": 3, "opacity": 1, "clip": true},
   "encoding": {
    "x": {"field": "h", "type": "quantitative", "scale": {"domain": [0,24], "nice": false, "zero": false}, "axis": {"orient":"bottom","values":[0,8,16,24],"labels":false,"grid":true,"gridDash":[4,133,4,1000],"title":null}},
    "y": {"field": "v", "type": "quantitative", "scale": {"domain": [62.58,63.622], "nice": false, "zero": false}, "axis": {"orient":"left","values":[62.6,62.8,63.0,63.2,63.4,63.6],"format":".1f","grid":true,"gridDash":[12,560,12,1000],"title":["spin","axis","Alpha","[deg]"]}}
   }},
  {"transform": [{"filter": "datum.h>=10"}],
   "mark": {"type": "square", "color": "black", "size": 3, "opacity": 1, "clip": true},
   "encoding": {
    "x": {"field": "h", "type": "quantitative", "scale": {"domain": [0,24], "nice": false, "zero": false}, "axis": {"orient":"top","values":[0,1,2,3,4,5,6,7,8,9,10,11,12,13,14,15,16,17,18,19,20,21,22,23,24],"labels":false,"grid":true,"gridDash":[2,137,2,1000],"title":null}},
    "y": {"field": "v", "type": "quantitative", "scale": {"domain": [62.58,63.622], "nice": false, "zero": false}, "axis": {"orient":"right","values":[62.6,62.65,62.7,62.75,62.8,62.85,62.9,62.95,63.0,63.05,63.1,63.15,63.2,63.25,63.3,63.35,63.4,63.45,63.5,63.55,63.6],"labels":false,"grid":true,"gridDash":[6,572,6,1000],"title":["\u00a0only","for","5000","\u22125500km"],"titleAngle":0,"titleAlign":"left","titleBaseline":"top","titleX":7,"titleY":58,"titleFontSize":12,"titleLineHeight":12.6}}
   }}
 ]
},
{
 "width": 584, "height": 141, "data": {"name": "p7"},
 "resolve": {"axis": {"x": "independent", "y": "independent"}},
 "layer": [
  {"transform": [{"filter": "datum.k=='pt'"}],
   "mark": {"type": "square", "color": "black", "size": 2, "opacity": 1, "clip": true},
   "encoding": {
    "x": {"field": "h", "type": "quantitative", "scale": {"domain": [0,24], "nice": false, "zero": false}, "axis": {"orient":"bottom","values":[0,8,16,24],"labels":false,"grid":true,"gridDash":[4,133,4,1000],"title":null}},
    "y": {"field": "v", "type": "quantitative", "scale": {"domain": [22.013,22.529], "nice": false, "zero": false}, "axis": {"orient":"left","values":[22.1,22.2,22.3,22.4,22.5],"format":".1f","grid":true,"gridDash":[12,560,12,1000],"title":["spin","axis","Delta","[deg]"]}}
   }},
  {"transform": [{"filter": "datum.k!='pt'"}],
   "mark": {"type": "line", "color": "black", "strokeWidth": 1, "clip": true},
   "encoding": {
    "x": {"field": "h", "type": "quantitative", "scale": {"domain": [0,24], "nice": false, "zero": false}, "axis": {"orient":"top","values":[0,1,2,3,4,5,6,7,8,9,10,11,12,13,14,15,16,17,18,19,20,21,22,23,24],"labels":false,"grid":true,"gridDash":[2,137,2,1000],"title":null}},
    "y": {"field": "v", "type": "quantitative", "scale": {"domain": [22.013,22.529], "nice": false, "zero": false}, "axis": {"orient":"right","values":[22.02,22.03,22.04,22.05,22.06,22.07,22.08,22.09,22.1,22.11,22.12,22.13,22.14,22.15,22.16,22.17,22.18,22.19,22.2,22.21,22.22,22.23,22.24,22.25,22.26,22.27,22.28,22.29,22.3,22.31,22.32,22.33,22.34,22.35,22.36,22.37,22.38,22.39,22.4,22.41,22.42,22.43,22.44,22.45,22.46,22.47,22.48,22.49,22.5,22.51,22.52],"labels":false,"grid":true,"gridDash":[6,572,6,1000],"title":["\u00a0only","for","5000","\u22125500km"],"titleAngle":0,"titleAlign":"left","titleBaseline":"top","titleX":7,"titleY":58,"titleFontSize":12,"titleLineHeight":12.6}},
    "detail": {"field": "s"},
    "order": {"value": null}
   }}
 ]
},
{
 "width": 584, "height": 141, "data": {"name": "p8"},
 "resolve": {"axis": {"x": "independent", "y": "independent"}},
 "layer": [
  {"transform": [{"filter": "datum.h<13"}],
   "mark": {"type": "line", "color": "black", "strokeWidth": 1, "clip": true},
   "encoding": {
    "x": {"field": "h", "type": "quantitative", "scale": {"domain": [0,24], "nice": false, "zero": false}, "axis": {"orient":"bottom","values":[0,8,16,24],"labels":false,"grid":true,"gridDash":[4,133,4,1000],"title":null}},
    "y": {"field": "v", "type": "quantitative", "scale": {"domain": [62.563,63.843], "nice": false, "zero": false}, "axis": {"orient":"left","values":[62.6,62.8,63.0,63.2,63.4,63.6,63.8],"format":".1f","grid":true,"gridDash":[12,560,12,1000],"title":["spin","axis","Alpha","[deg]"]}},
    "detail": {"field": "s"},
    "order": {"value": null}
   }},
  {"transform": [{"filter": "datum.h>=13"}],
   "mark": {"type": "line", "color": "black", "strokeWidth": 1, "clip": true},
   "encoding": {
    "x": {"field": "h", "type": "quantitative", "scale": {"domain": [0,24], "nice": false, "zero": false}, "axis": {"orient":"top","values":[0,1,2,3,4,5,6,7,8,9,10,11,12,13,14,15,16,17,18,19,20,21,22,23,24],"labels":false,"grid":true,"gridDash":[2,137,2,1000],"title":null}},
    "y": {"field": "v", "type": "quantitative", "scale": {"domain": [62.563,63.843], "nice": false, "zero": false}, "axis": {"orient":"right","values":[62.6,62.65,62.7,62.75,62.8,62.85,62.9,62.95,63.0,63.05,63.1,63.15,63.2,63.25,63.3,63.35,63.4,63.45,63.5,63.55,63.6,63.65,63.7,63.75,63.8],"labels":false,"grid":true,"gridDash":[6,572,6,1000],"title":"interpolated","titleAngle":0,"titleAlign":"left","titleBaseline":"middle","titleX":0,"titleY":79,"titleFontSize":13}},
    "detail": {"field": "s"},
    "order": {"value": null}
   }}
 ]
},
{
 "width": 584, "height": 141, "data": {"name": "p9"},
 "resolve": {"axis": {"x": "independent", "y": "independent"}},
 "layer": [
  {"transform": [{"filter": "datum.k!='pt'"}],
   "mark": {"type": "line", "color": "black", "strokeWidth": 1, "clip": true},
   "encoding": {
    "x": {"field": "h", "type": "quantitative", "scale": {"domain": [0,24], "nice": false, "zero": false}, "axis": {"orient":"bottom","values":[0,8,16,24],"labels":false,"grid":true,"gridDash":[4,133,4,1000],"title":null}},
    "y": {"field": "v", "type": "quantitative", "scale": {"domain": [22.02,22.531], "nice": false, "zero": false}, "axis": {"orient":"left","values":[22.1,22.2,22.3,22.4,22.5],"format":".1f","grid":true,"gridDash":[12,560,12,1000],"title":["spin","axis","Delta","[deg]"]}},
    "detail": {"field": "s"},
    "order": {"value": null}
   }},
  {"transform": [{"filter": "datum.k=='pt'"}],
   "mark": {"type": "square", "color": "black", "size": 2, "opacity": 1, "clip": true},
   "encoding": {
    "x": {"field": "h", "type": "quantitative", "scale": {"domain": [0,24], "nice": false, "zero": false}, "axis": {"orient":"top","values":[0,1,2,3,4,5,6,7,8,9,10,11,12,13,14,15,16,17,18,19,20,21,22,23,24],"labels":false,"grid":true,"gridDash":[2,137,2,1000],"title":null}},
    "y": {"field": "v", "type": "quantitative", "scale": {"domain": [22.02,22.531], "nice": false, "zero": false}, "axis": {"orient":"right","values":[22.03,22.04,22.05,22.06,22.07,22.08,22.09,22.1,22.11,22.12,22.13,22.14,22.15,22.16,22.17,22.18,22.19,22.2,22.21,22.22,22.23,22.24,22.25,22.26,22.27,22.28,22.29,22.3,22.31,22.32,22.33,22.34,22.35,22.36,22.37,22.38,22.39,22.4,22.41,22.42,22.43,22.44,22.45,22.46,22.47,22.48,22.49,22.5,22.51,22.52,22.53],"labels":false,"grid":true,"gridDash":[6,572,6,1000],"title":"interpolated","titleAngle":0,"titleAlign":"left","titleBaseline":"middle","titleX":0,"titleY":80,"titleFontSize":13}}
   }}
 ]
},
{
 "width": 584, "height": 141, "data": {"name": "p10"},
 "resolve": {"axis": {"x": "independent", "y": "independent"}},
 "layer": [
  {"transform": [{"filter": "datum.h<13"}],
   "mark": {"type": "line", "color": "#0000ff", "strokeWidth": 1.2, "clip": true},
   "encoding": {
    "x": {"field": "h", "type": "quantitative", "scale": {"domain": [0,24], "nice": false, "zero": false}, "axis": {"orient":"bottom","values":[0,8,16,24],"labels":true,"labelExpr":"datum.value==0?['0000','Nov 16']:datum.value==24?['0000','Nov 17']:datum.value==8?'0800':'1600'","labelPadding":7,"labelLineHeight":12.5,"grid":true,"gridDash":[4,133,4,1000],"title":["hhmm","2018"],"titleX":-128,"titleY":7,"titleAlign":"left","titleBaseline":"top","titleAngle":0,"titleFontSize":13,"titleLineHeight":12.5}},
    "y": {"field": "v", "type": "quantitative", "scale": {"domain": [-15743,15900], "nice": false, "zero": false}, "axis": {"orient":"left","values":[-15000,-10000,-5000,0,5000,10000,15000],"labelExpr":"datum.value==15000?'1.5×10⁴':datum.value==10000?'1.0×10⁴':datum.value==5000?'5.0×10³':datum.value==0?'0':datum.value==-5000?'\u22125.0×10³':datum.value==-10000?'\u22121.0×10⁴':'\u22121.5×10⁴'","labelPadding":3,"grid":true,"gridDash":[12,560,12,1000],"title":["dt from","nearest","GAS val","[sec]"]}},
    "detail": {"field": "s"},
    "order": {"value": null}
   }},
  {"transform": [{"filter": "datum.h>=13"}],
   "mark": {"type": "line", "color": "#0000ff", "strokeWidth": 1.2, "clip": true},
   "encoding": {
    "x": {"field": "h", "type": "quantitative", "scale": {"domain": [0,24], "nice": false, "zero": false}, "axis": {"orient":"top","values":[0,1,2,3,4,5,6,7,8,9,10,11,12,13,14,15,16,17,18,19,20,21,22,23,24],"labels":false,"grid":true,"gridDash":[2,137,2,1000],"title":null}},
    "y": {"field": "v", "type": "quantitative", "scale": {"domain": [-15743,15900], "nice": false, "zero": false}, "axis": {"orient":"right","values":[-15000,-14000,-13000,-12000,-11000,-10000,-9000,-8000,-7000,-6000,-5000,-4000,-3000,-2000,-1000,0,1000,2000,3000,4000,5000,6000,7000,8000,9000,10000,11000,12000,13000,14000,15000],"labels":false,"grid":true,"gridDash":[6,572,6,1000],"title":"Sat Nov 24 10:04:30 2018","titleAngle":270,"titleAlign":"left","titleBaseline":"alphabetic","titleX":8,"titleY":139,"titleFontSize":7}},
    "detail": {"field": "s"},
    "order": {"value": null}
   }}
 ]
}
]
}
